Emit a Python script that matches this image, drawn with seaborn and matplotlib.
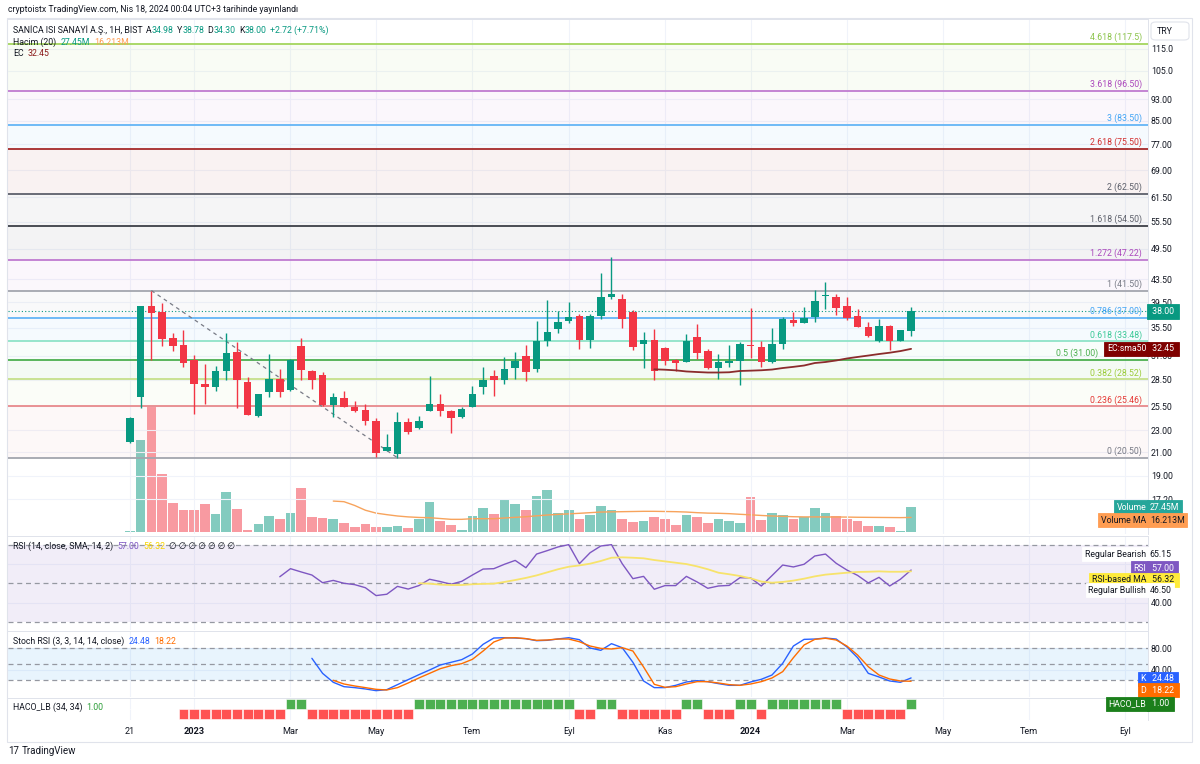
import numpy as np
import pandas as pd
import seaborn as sns
import matplotlib.pyplot as plt
import matplotlib.transforms as mtransforms
from matplotlib.patches import Rectangle, FancyBboxPatch

sns.set_theme(style='white')
plt.rcParams['font.family'] = ['Roboto', 'DejaVu Sans']

# haftalik mumlar, ilk mum 21 Kasim 2022 haftasi
opens = [21.93, 26.52, 38.88, 37.95, 34.01, 32.98, 30.92, 28.01, 27.66, 29.56,
         32.06, 28.21, 24.45, 27.02, 28.57, 27.31, 32.84, 29.60, 29.06, 25.61,
         26.37, 25.40, 25.07, 23.93, 21.12, 20.82, 23.80, 23.21, 24.93, 25.71,
         24.96, 24.38, 25.43, 27.66, 28.97, 28.45, 29.93, 31.49, 29.80, 33.54,
         35.33, 36.53, 37.31, 33.68, 37.26, 40.38, 39.99, 37.90, 33.07, 33.73,
         32.57, 30.92, 30.74, 34.11, 32.15, 29.89, 30.61, 30.87, 32.90, 32.66,
         30.74, 33.12, 36.64, 36.14, 37.15, 40.50, 40.43, 38.93, 37.26, 35.62,
         33.54, 35.77, 33.54, 34.98]
highs = [24.30, 38.95, 41.50, 39.42, 34.65, 35.13, 31.58, 30.44, 30.18, 34.73,
         33.36, 28.85, 26.80, 31.75, 29.84, 31.13, 33.93, 29.68, 29.40, 26.91,
         27.17, 26.07, 25.68, 24.21, 22.63, 24.89, 24.27, 24.45, 28.94, 26.82,
         25.07, 25.43, 27.74, 30.02, 29.68, 31.39, 32.06, 32.98, 36.49, 39.87,
         38.06, 39.59, 37.54, 37.58, 44.75, 47.88, 40.84, 38.22, 34.88, 35.28,
         32.66, 31.13, 34.54, 36.03, 32.39, 31.71, 33.03, 33.44, 38.49, 33.54,
         35.39, 37.15, 37.86, 38.66, 41.59, 42.96, 40.89, 40.43, 38.33, 36.38,
         36.75, 35.88, 35.13, 38.78]
lows = [21.80, 25.32, 30.96, 32.88, 32.15, 30.09, 24.65, 25.75, 27.20, 28.45,
        25.32, 24.50, 24.38, 26.45, 26.52, 27.13, 28.49, 27.39, 25.50, 24.38,
        25.43, 24.88, 23.50, 20.55, 21.12, 20.50, 22.63, 23.11, 24.93, 24.48,
        22.72, 24.27, 25.43, 26.79, 26.63, 27.94, 28.57, 28.33, 29.47, 32.88,
        34.73, 36.14, 32.39, 32.61, 36.75, 39.99, 35.47, 32.29, 29.97, 28.45,
        30.31, 29.56, 30.70, 31.13, 29.84, 28.57, 30.02, 27.86, 31.18, 30.02,
        30.61, 32.39, 35.73, 36.14, 36.38, 38.38, 37.42, 36.64, 35.53, 34.17,
        33.44, 32.29, 33.54, 34.30]
closes = [24.21, 38.88, 37.69, 33.82, 32.88, 30.53, 27.94, 27.66, 29.56, 31.84,
          28.49, 24.52, 26.79, 28.57, 27.02, 30.92, 29.64, 28.49, 25.61, 26.45,
          25.43, 24.96, 23.93, 20.94, 21.47, 23.80, 22.82, 23.96, 25.71, 24.93,
          24.21, 25.18, 26.82, 28.41, 28.45, 29.77, 30.87, 29.47, 33.54, 34.84,
          36.33, 37.15, 33.68, 37.31, 40.33, 40.95, 36.79, 32.75, 33.68, 29.59,
          30.83, 30.61, 33.54, 31.92, 29.93, 30.66, 30.87, 33.10, 32.80, 30.74,
          33.12, 36.75, 36.14, 36.91, 39.70, 40.60, 38.49, 36.91, 35.62, 34.26,
          35.77, 33.54, 35.13, 38.00]
# hacim, milyon
volumes = [1.5, 102.0, 139.0, 64.4, 32.6, 24.9, 24.2, 30.7, 19.8, 44.7,
           26.0, 2.5, 8.8, 17.6, 14.0, 21.2, 49.4, 16.8, 15.7, 14.0,
           9.5, 5.8, 8.8, 5.1, 5.8, 6.6, 4.0, 14.0, 33.0, 12.4,
           7.7, 2.0, 17.6, 27.1, 20.5, 35.1, 30.7, 24.2, 39.5, 47.2,
           21.6, 24.9, 14.6, 18.7, 29.3, 24.9, 14.0, 11.3, 12.1, 16.8,
           14.0, 7.7, 18.7, 16.8, 9.5, 14.0, 12.4, 10.2, 38.8, 13.2,
           21.6, 18.7, 14.0, 16.5, 27.1, 21.6, 17.6, 14.6, 12.1, 6.6,
           6.6, 5.1, 1.5, 27.45]

sma50_start = 49
sma50 = [29.77, 29.72, 29.64, 29.50, 29.43, 29.37, 29.37, 29.40, 29.56, 29.60,
         29.65, 29.74, 29.93, 30.08, 30.25, 30.57, 30.70, 30.90, 31.16, 31.36,
         31.55, 31.75, 31.93, 32.15, 32.45]
vol_ma_start = 19
vol_ma = [34.4, 33.7, 29.5, 24.2, 21.0, 19.3, 17.8, 16.8, 16.2, 15.9,
          15.0, 14.1, 14.1, 14.8, 14.8, 14.8, 15.6, 16.3, 17.0, 18.0,
          18.9, 19.6, 20.2, 20.8, 21.5, 22.2, 22.4, 22.6, 22.8, 23.0,
          23.0, 22.8, 22.6, 22.2, 21.5, 21.0, 20.8, 20.4, 19.7, 19.1,
          18.4, 17.8, 17.4, 17.0, 16.8, 16.8, 16.7, 16.7, 16.6, 16.4,
          16.3, 16.2, 16.1, 16.0, 16.213]

rsi_start = 14
rsi = [53.5, 57.7, 56.0, 54.4, 50.4, 51.6, 50.1, 49.4, 47.8, 43.7,
       44.4, 48.5, 47.1, 48.9, 52.2, 51.0, 49.6, 51.1, 54.4, 57.5,
       57.7, 60.0, 62.0, 58.2, 65.3, 67.1, 69.0, 70.2, 60.3, 66.0,
       69.5, 70.2, 60.3, 52.5, 53.7, 47.0, 48.9, 48.9, 53.7, 50.8,
       47.5, 48.7, 49.0, 53.0, 52.9, 48.7, 54.1, 59.6, 58.6, 60.0,
       64.3, 65.3, 60.5, 57.0, 54.2, 50.3, 53.2, 48.7, 52.2, 57.0]
rsi_ma_start = 27
rsi_ma = [50.1, 49.9, 49.4, 49.2, 49.2, 49.6, 49.8, 49.9, 50.8, 51.8,
          52.9, 54.2, 55.8, 57.4, 58.7, 59.4, 60.3, 61.7, 63.4, 63.6,
          63.4, 63.1, 62.2, 61.5, 60.8, 60.1, 58.9, 57.4, 55.6, 54.8,
          53.9, 52.7, 51.0, 50.4, 50.8, 51.5, 52.5, 53.7, 54.6, 55.1,
          55.6, 56.0, 56.1, 56.3, 56.1, 56.1, 56.32]

k_start = 17
stoch_k = [61.3, 33.1, 16.3, 8.1, 6.3, 3.8, 0.6, 2.5, 11.9, 21.3,
           30.6, 39.4, 48.8, 53.8, 58.8, 69.4, 87.6, 99.4, 100.0, 99.4,
           98.2, 94.4, 95.1, 97.6, 100.0, 96.3, 80.7, 76.3, 88.8, 81.3,
           53.8, 18.8, 6.3, 6.3, 10.6, 16.9, 19.4, 17.5, 13.8, 10.6,
           10.6, 16.9, 21.9, 30.0, 51.9, 84.4, 96.9, 97.5, 99.4, 97.5,
           82.6, 62.5, 33.1, 26.3, 18.8, 16.3, 24.48]
d_start = 19
stoch_d = [20.0, 13.1, 9.4, 6.3, 3.1, 1.9, 6.3, 15.0,
           24.4, 33.1, 41.9, 47.5, 51.3, 59.4, 75.0, 91.9, 99.4, 100.0,
           98.2, 95.1, 95.7, 97.5, 97.5, 92.5, 84.4, 80.0, 78.8, 81.3,
           75.0, 45.0, 12.5, 6.9, 8.1, 13.1, 17.5, 17.5, 15.0, 11.9,
           10.6, 13.1, 17.5, 24.4, 36.3, 62.5, 86.3, 96.9, 99.0, 95.7,
           84.4, 67.5, 45.6, 30.0, 22.5, 18.8, 18.22]

haco = [0, 0, 0, 0, 0, -1, -1, -1, -1, -1,
        -1, -1, -1, -1, -1, 1, 1, -1, -1, -1,
        -1, -1, -1, -1, -1, -1, -1, 1, 1, 1,
        1, 1, 1, 1, 1, 1, 1, 1, 1, 1,
        1, 1, -1, -1, 1, 1, -1, -1, -1, -1,
        -1, -1, 1, 1, -1, -1, -1, 1, 1, -1,
        1, 1, 1, 1, 1, 1, 1, -1, -1, -1,
        -1, -1, -1, 1]

fib_labels = ['0 (20.50)', '0.236 (25.46)', '0.382 (28.52)', '0.5 (31.00)', '0.618 (33.48)',
              '0.786 (37.00)', '1 (41.50)', '1.272 (47.22)', '1.618 (54.50)', '2 (62.50)',
              '2.618 (75.50)', '3 (83.50)', '3.618 (96.50)', '4.618 (117.5)']
fib_prices = [20.50, 25.46, 28.52, 31.00, 33.48, 37.00, 41.50, 47.22, 54.50, 62.50,
              75.50, 83.50, 96.50, 117.5]
fib_line_colors = ['#a3a6ae', '#e8898c', '#c5e08a', '#4caf50', '#8fe3c8', '#64b5f6', '#a3a6ae',
                   '#c07bd0', '#3c3f47', '#5d606b', '#a52a2a', '#64b5f6', '#c07bd0', '#a4d65e']
fib_text_colors = ['#787b86', '#e53935', '#9ccc3a', '#4caf50', '#3cc997', '#42a5f5', '#787b86',
                   '#ab47bc', '#5d606b', '#5d606b', '#d32f2f', '#42a5f5', '#ab47bc', '#8bc34a']

price_ticks = [115.0, 105.0, 93.0, 85.0, 77.0, 69.0, 61.5, 55.5, 49.5, 43.5,
               39.5, 35.5, 31.5, 28.5, 25.5, 23.0, 21.0, 19.0, 17.2]
price_tick_labels = ['115.0', '105.0', '93.00', '85.00', '77.00', '69.00', '61.50', '55.50',
                     '49.50', '43.50', '39.50', '35.50', '31.50', '28.50', '25.50', '23.00',
                     '21.00', '19.00', '17.20']

date_ticks = [0, 6, 15, 23, 32, 41, 50, 58, 67, 76, 84, 93]
date_labels = ['21', '2023', 'Mar', 'May', 'Tem', 'Eyl', 'Kas', '2024', 'Mar', 'May', 'Tem', 'Eyl']

GREEN = '#089981'
RED = '#f23645'
TEXT = '#131722'
GRID = '#f0f3fa'
LINE = '#e0e3eb'
FS = 6.3

W, H = 1200, 764
fig = plt.figure(figsize=(W / 100, H / 100), dpi=100)
fig.patch.set_facecolor('white')


def pane(top, bottom):
    return fig.add_axes([8 / W, 1 - bottom / H, 1140 / W, (bottom - top) / H])


ax = pane(19, 534)
axv = ax.twinx()
ax_rsi = pane(536, 630)
ax_st = pane(631, 697)
ax_hc = pane(698, 720)
ax.set_zorder(axv.get_zorder() + 1)
ax.patch.set_visible(False)

df = pd.DataFrame({'x': np.arange(len(closes)), 'open': opens, 'high': highs,
                   'low': lows, 'close': closes, 'volume': volumes})
df['color'] = np.where(df['close'] >= df['open'], GREEN, RED)
body_low = df[['open', 'close']].min(axis=1)
body_h = (df['close'] - df['open']).abs().clip(lower=body_low * 0.004)

# fib seviyeleri ve arka planlari
ax.set_yscale('log')
tr_price = mtransforms.blended_transform_factory(ax.transAxes, ax.transData)
for i, (lab, p, lc, tc) in enumerate(zip(fib_labels, fib_prices, fib_line_colors, fib_text_colors)):
    ax.axhline(p, color=lc, lw=1.3, zorder=2)
    if i > 0:
        ax.axhspan(fib_prices[i - 1], p, color=lc, alpha=0.06, lw=0, zorder=1)
    # 0.5 etiketi EC kutusunun altinda kalmasin diye sola kayik
    dx = -36 if lab.startswith('0.5 ') else -4.5
    ax.annotate(lab, xy=(1, p), xycoords=tr_price, xytext=(dx, 1.2), textcoords='offset points',
                ha='right', va='bottom', color=tc, fontsize=FS, zorder=6)

ax.plot([2, 25], [highs[2], lows[25]], color='#787b86', lw=0.9, ls=(0, (3, 3)), zorder=3)
ax.axhline(closes[-1], color=GREEN, lw=0.8, ls=(0, (1, 2)), zorder=2)

# mumlar
ax.vlines(df['x'], df['low'], df['high'], colors=df['color'], lw=1, zorder=4)
ax.bar(df['x'], body_h, bottom=body_low, width=0.7, color=df['color'], lw=0, zorder=5)
sns.lineplot(x=np.arange(sma50_start, sma50_start + len(sma50)), y=sma50, ax=ax,
             color='#8b2c2c', lw=1.3, zorder=6)

# hacim
axv.bar(df['x'], df['volume'], width=0.9, color=df['color'], alpha=0.5, lw=0)
sns.lineplot(x=np.arange(vol_ma_start, vol_ma_start + len(vol_ma)), y=vol_ma, ax=axv,
             color='#f7a35c', lw=1)
axv.set_ylim(-2.2, 570)
axv.yaxis.set_visible(False)
for s in axv.spines.values():
    s.set_visible(False)

ax.set_ylim(14.86, 130.5)
ax.set_yticks(price_ticks, labels=price_tick_labels)
ax.yaxis.set_minor_locator(plt.NullLocator())
ax.yaxis.tick_right()

# RSI
ax_rsi.axhspan(30, 70, color='#7e57c2', alpha=0.1, lw=0)
for lvl in (70, 50, 30):
    ax_rsi.axhline(lvl, color='#9598a1', lw=0.9, ls=(0, (4, 3)))
sns.lineplot(x=np.arange(rsi_start, rsi_start + len(rsi)), y=rsi, ax=ax_rsi, color='#7e57c2', lw=1)
sns.lineplot(x=np.arange(rsi_ma_start, rsi_ma_start + len(rsi_ma)), y=rsi_ma, ax=ax_rsi,
             color='#f7e36b', lw=1.3)
ax_rsi.set_ylim(25.8, 74.7)
ax_rsi.set_yticks([60, 40], labels=['60.00', '40.00'])
ax_rsi.yaxis.tick_right()

# Stoch RSI
ax_st.axhspan(20, 80, color='#2196f3', alpha=0.1, lw=0)
for lvl in (80, 50, 20):
    ax_st.axhline(lvl, color='#9598a1', lw=0.9, ls=(0, (4, 3)))
sns.lineplot(x=np.arange(k_start, k_start + len(stoch_k)), y=stoch_k, ax=ax_st, color='#2962ff', lw=1)
sns.lineplot(x=np.arange(d_start, d_start + len(stoch_d)), y=stoch_d, ax=ax_st, color='#ff6d00', lw=1)
ax_st.set_ylim(-11.3, 112.6)
ax_st.set_yticks([80, 40], labels=['80.00', '40.00'])
ax_st.yaxis.tick_right()

# HACO_LB
haco_arr = np.array(haco)
ax_hc.bar(df['x'], np.where(haco_arr == 0, -0.07, haco_arr), width=0.92,
          color=np.where(haco_arr > 0, '#4caf50', '#ff5252'), edgecolor='white', lw=0.4)
ax_hc.set_ylim(-1.15, 1.1)
ax_hc.set_yticks([])

for a in (ax, ax_rsi, ax_st, ax_hc):
    a.set_xlim(-11.4, 95.14)
    a.set_xticks(date_ticks)
    a.set_xlabel('')
    a.set_ylabel('')
    a.grid(True, color=GRID, lw=0.8)
    a.tick_params(axis='both', length=0, pad=2, labelsize=FS, labelcolor=TEXT)
    a.tick_params(axis='x', labelbottom=False)
    for side, s in a.spines.items():
        s.set_color(LINE)
        s.set_linewidth(0.7)
        s.set_visible(side in ('top', 'right'))
ax_hc.set_xticks(date_ticks, labels=date_labels)
ax_hc.tick_params(axis='x', labelbottom=True, pad=5, labelsize=6.6)
for t in ax_hc.get_xticklabels():
    if t.get_text() in ('2023', '2024'):
        t.set_fontweight('bold')


def tag(host, ytrans, y, text, fc, tc='white', left=False, dy=0, ec=None):
    tr = mtransforms.blended_transform_factory(host.transAxes, ytrans)
    host.annotate(text, xy=(1, y), xycoords=tr, xytext=(-1.3 if left else 1.3, dy),
                  textcoords='offset points', ha='right' if left else 'left', va='center',
                  fontsize=FS, color=tc, zorder=20, annotation_clip=False,
                  bbox=dict(boxstyle='square,pad=0.3', fc=fc, ec=ec or fc, lw=0.6))


tag(ax, ax.transData, closes[-1], ' 38.00 ', GREEN)
tag(ax, ax.transData, sma50[-1], 'EC:sma50', '#7f0000', left=True)
tag(ax, ax.transData, sma50[-1], ' 32.45 ', '#7f0000')
tag(ax, axv.transData, volumes[-1], 'Volume', '#26a69a', left=True)
tag(ax, axv.transData, volumes[-1], '27.45M', '#26a69a')
tag(ax, axv.transData, vol_ma[-1], 'Volume MA', '#ff9d52', tc=TEXT, left=True, dy=-1.9)
tag(ax, axv.transData, vol_ma[-1], '16.213M', '#ff9d52', tc=TEXT, dy=-1.9)

tag(ax_rsi, ax_rsi.transData, 65.15, 'Regular Bearish', 'white', tc=TEXT, left=True)
tag(ax_rsi, ax_rsi.transData, 65.15, '65.15', 'white', tc=TEXT)
tag(ax_rsi, ax_rsi.transData, rsi[-1], 'RSI', '#7e57c2', left=True, dy=1.4)
tag(ax_rsi, ax_rsi.transData, rsi[-1], ' 57.00 ', '#7e57c2', dy=1.4)
tag(ax_rsi, ax_rsi.transData, rsi_ma[-1], 'RSI-based MA', '#ffeb3b', tc=TEXT, left=True, dy=-6.2)
tag(ax_rsi, ax_rsi.transData, rsi_ma[-1], ' 56.32 ', '#ffeb3b', tc=TEXT, dy=-6.2)
tag(ax_rsi, ax_rsi.transData, 46.5, 'Regular Bullish', 'white', tc=TEXT, left=True)
tag(ax_rsi, ax_rsi.transData, 46.5, '46.50', 'white', tc=TEXT)

tag(ax_st, ax_st.transData, stoch_k[-1], 'K', '#2962ff', left=True, dy=-0.7)
tag(ax_st, ax_st.transData, stoch_k[-1], ' 24.48 ', '#2962ff', dy=-0.7)
tag(ax_st, ax_st.transData, stoch_d[-1], 'D', '#ff6d00', left=True, dy=-6.3)
tag(ax_st, ax_st.transData, stoch_d[-1], ' 18.22 ', '#ff6d00', dy=-6.3)

tag(ax_hc, ax_hc.transData, 1.0, 'HACO_LB', '#1b7f1b', left=True, dy=-3.6)
tag(ax_hc, ax_hc.transData, 1.0, ' 1.00 ', '#1b7f1b', dy=-3.6)


def legend_row(x_px, y_px, parts, size=FS, weight='normal'):
    prev = None
    for txt, col, gap in parts:
        if prev is None:
            prev = ax.annotate(txt, xy=(x_px, H - y_px), xycoords='figure pixels', ha='left',
                               va='center', color=col, fontsize=size, zorder=12,
                               annotation_clip=False, fontweight=weight)
        else:
            prev = ax.annotate(txt, xy=(1, 0), xycoords=prev, xytext=(gap, 0),
                               textcoords='offset points', ha='left', va='bottom', color=col,
                               fontsize=size, zorder=12, annotation_clip=False)


legend_row(8, 9, [('cryptoistx TradingView.com, Nis 18, 2024 00:04 UTC+3 tarihinde yayınlandı', TEXT, 0)])
legend_row(13, 30, [('SANİCA ISI SANAYİ A.Ş., 1H, BIST', TEXT, 0), ('A', TEXT, 2.5), ('34.98', GREEN, 0),
                    ('Y', TEXT, 2.5), ('38.78', GREEN, 0), ('D', TEXT, 2.5), ('34.30', GREEN, 0),
                    ('K', TEXT, 2.5), ('38.00', GREEN, 0), ('+2.72 (+7.71%)', GREEN, 2.5)])
legend_row(13, 42, [('Hacim (20)', TEXT, 0), ('27.45M', GREEN, 3), ('16.213M', '#ff9d52', 3)])
legend_row(13, 54, [('EC', TEXT, 0), ('32.45', '#8b1a1a', 3)])
legend_row(13, 546, [('RSI (14, close, SMA, 14, 2)', TEXT, 0), ('57.00', '#7e57c2', 3),
                     ('56.32', '#f5d300', 3), ('∅ ∅ ∅ ∅ ∅ ∅ ∅', TEXT, 3)])
legend_row(13, 641, [('Stoch RSI (3, 3, 14, 14, close)', TEXT, 0), ('24.48', '#2962ff', 3),
                     ('18.22', '#ff6d00', 3)])
legend_row(13, 707, [('HACO_LB (34, 34)', TEXT, 0), ('1.00', '#2e9e3a', 3)])
legend_row(8, 751, [('17', TEXT, 0), ('TradingView', TEXT, 2)], size=7)

# dis cerceve ve TRY kutusu
fig.add_artist(Rectangle((7 / W, 1 - 742 / H), 1185 / W, 724 / H, transform=fig.transFigure,
                         fill=False, ec=LINE, lw=0.8))
fig.add_artist(FancyBboxPatch((1151 / W, 1 - 40 / H), 38 / W, 18 / H, transform=fig.transFigure,
                              boxstyle='round,pad=0,rounding_size=0.004', fc='white', ec=LINE, lw=0.8))
fig.text(1157 / W, 1 - 31 / H, 'TRY', fontsize=FS, color=TEXT, va='center', ha='left')

fig.savefig('out.png', dpi=100)
